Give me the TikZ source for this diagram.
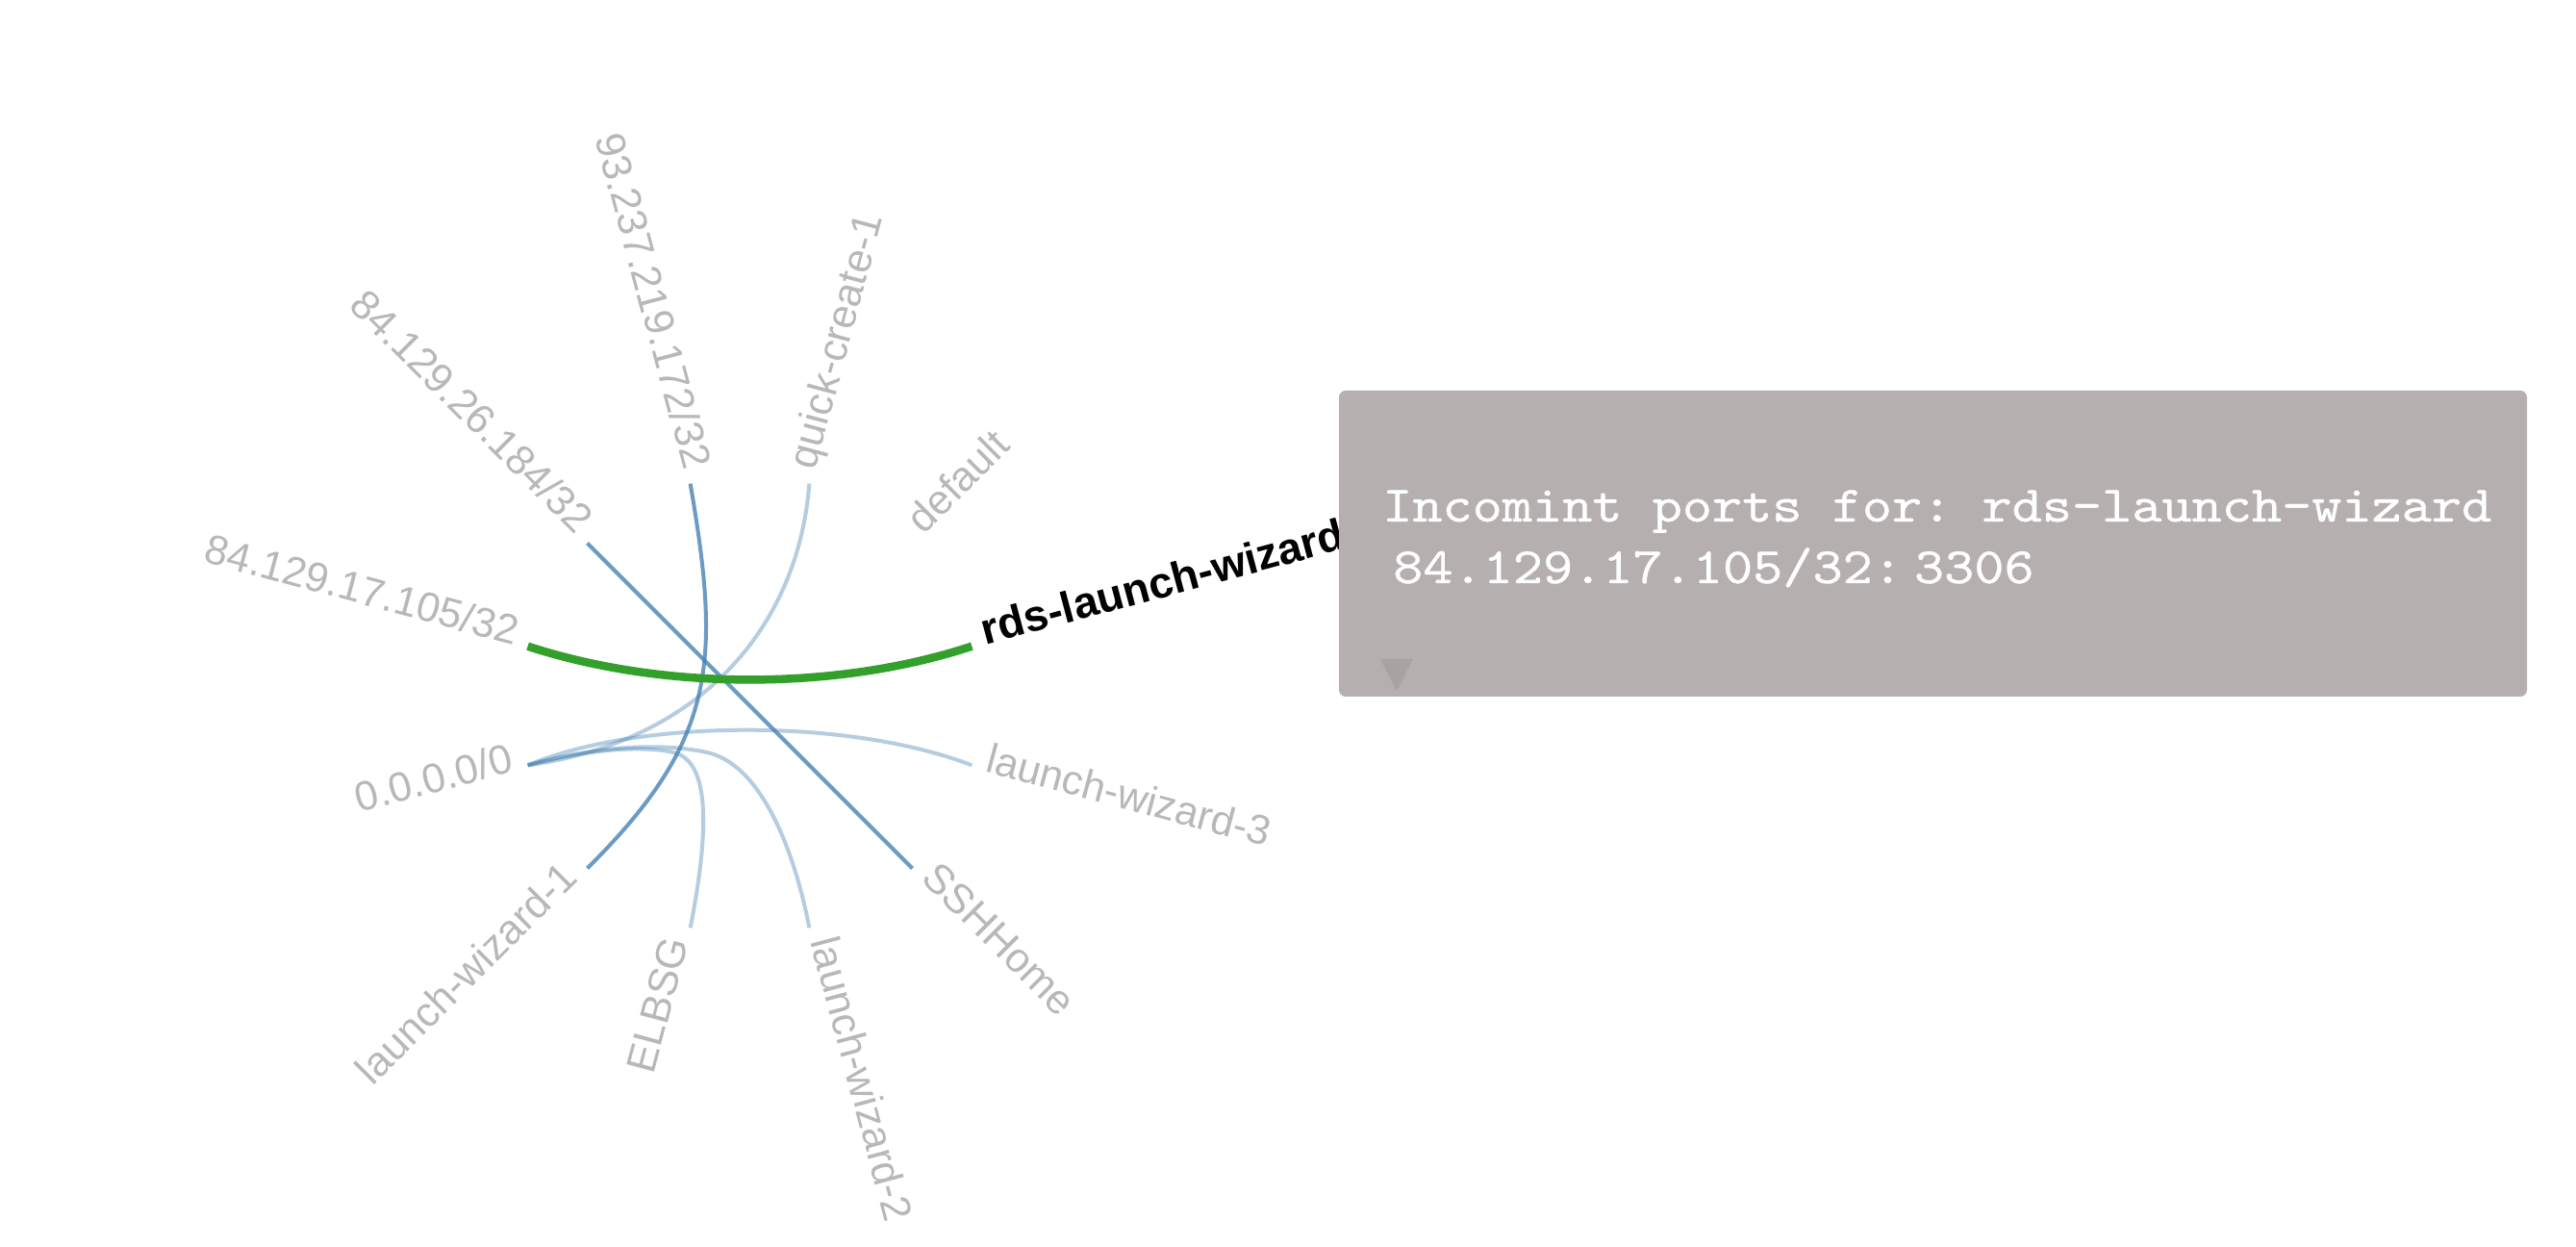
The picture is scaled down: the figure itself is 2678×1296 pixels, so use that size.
\documentclass[tikz,border=0pt]{standalone}
\usepackage{fontspec}
\setmainfont{Liberation Sans}
\newfontfamily\tipmono[Extension=.otf, FakeStretch=1.12, FakeBold=0.6]{lmmono10-regular}
\usetikzlibrary{calc}
\definecolor{lblgray}{HTML}{B8B8B8}
\definecolor{linkblue}{HTML}{4682B4}
\definecolor{linkgreen}{HTML}{33A02C}
\definecolor{tipbg}{HTML}{B5B0AF}
\definecolor{tiparrow}{HTML}{A8A3A2}
\begin{document}
\frenchspacing
\begin{tikzpicture}[x=1pt,y=1pt,
  lbl/.style={font=\fontsize{43}{50}\selectfont, text=lblgray, inner sep=0pt},
  lblL/.style={lbl, anchor=mid east},
  lblR/.style={lbl, anchor=mid west},
  weak/.style={draw=linkblue, draw opacity=0.4, line width=4pt},
  strong/.style={draw=linkblue, draw opacity=0.8, line width=4pt},
  active/.style={draw=linkgreen, line width=8.5pt},
  tipbox/.style={fill=tipbg, rounded corners=7pt, minimum width=1235pt, minimum height=318pt, inner sep=0pt},
  tiptext/.style={font=\tipmono\fontsize{53}{60}\selectfont, text=white, inner sep=0pt, anchor=base west}
]
\fill[white] (0,0) rectangle (2678,1296);
\useasboundingbox (0,0) rectangle (2678,1296);

\coordinate (ctr) at (779.5,562.5);
% leaf end points (radius 239)
\coordinate (pA) at ($(ctr)+(165:239)$);
\coordinate (pB) at ($(ctr)+(135:239)$);
\coordinate (pC) at ($(ctr)+(105:239)$);
\coordinate (pD) at ($(ctr)+(75:239)$);
\coordinate (pE) at ($(ctr)+(45:239)$);
\coordinate (pF) at ($(ctr)+(15:239)$);
\coordinate (pG) at ($(ctr)+(-15:239)$);
\coordinate (pH) at ($(ctr)+(-45:239)$);
\coordinate (pI) at ($(ctr)+(-75:239)$);
\coordinate (pJ) at ($(ctr)+(-105:239)$);
\coordinate (pK) at ($(ctr)+(-135:239)$);
\coordinate (pL) at ($(ctr)+(-165:239)$);

% labels (radius 253)
\node[lblL, rotate=-15] (tA) at ($(ctr)+(165:253)$) {84.129.17.105/32};
\node[lblL, rotate=-45] (tB) at ($(ctr)+(135:253)$) {84.129.26.184/32};
\node[lblL, rotate=-75] (tC) at ($(ctr)+(105:253)$) {93.237.219.172/32};
\node[lblR, rotate=75] (tD) at ($(ctr)+(75:253)$) {quick-create-1};
\node[lblR, rotate=45] (tE) at ($(ctr)+(45:253)$) {default};
\node[lblR, rotate=15, text=black, font=\fontsize{45.5}{52}\selectfont\bfseries] (tF) at ($(ctr)+(15:253)$) {rds-launch-wizard};
\node[lblR, rotate=-15] (tG) at ($(ctr)+(-15:253)$) {launch-wizard-3};
\node[lblR, rotate=-45] (tH) at ($(ctr)+(-45:253)$) {SSHHome};
\node[lblR, rotate=-75] (tI) at ($(ctr)+(-75:253)$) {launch-wizard-2};
\node[lblL, rotate=75] (tJ) at ($(ctr)+(-105:253)$) {ELBSG};
\node[lblL, rotate=45] (tK) at ($(ctr)+(-135:253)$) {launch-wizard-1};
\node[lblL, rotate=15] (tL) at ($(ctr)+(-165:253)$) {0.0.0.0/0};

% links
\draw[weak] (pD) .. controls (830,646) and (730,526) .. (pL);
\draw[weak] (pL) .. controls (660,548) and (880,551) .. (pG);
\draw[weak] (pL) .. controls (605,516) and (665,522) .. (700,514) .. controls (735,506) and (740,446) .. (pJ);
\draw[weak] (pL) .. controls (610,518) and (680,526) .. (735,514) .. controls (790,502) and (825,416) .. (pI);
\draw[strong] (pB) -- (pH);
\draw[strong] (pC) .. controls (750,606) and (744,526) .. (pK);
\draw[active] (pA) .. controls (690,578) and (870,578) .. (pF);

% tooltip
\node[tipbox] (tip) at (2009.5,731) {};
\node[tiptext] (tip1) at (1437,754) {Incomint ports for: rds-launch-wizard};
\node[tiptext] (tip2) at (1448,690) {84.129.17.105/32:\hspace{12pt}3306};
\fill[tiparrow] (1435,611) -- (1469,611) -- (1452,578) -- cycle;
\end{tikzpicture}
\end{document}
